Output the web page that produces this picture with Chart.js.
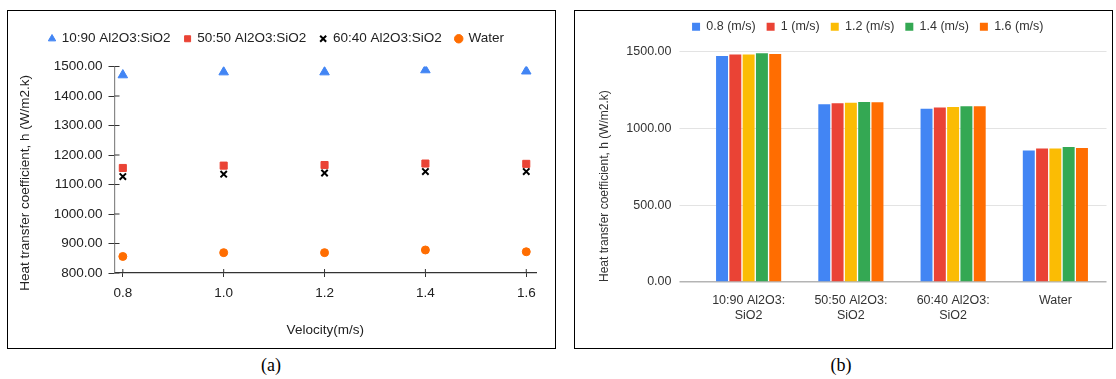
<!DOCTYPE html>
<html>
<head>
<meta charset="utf-8">
<script src="https://cdn.jsdelivr.net/npm/chart.js@4"></script>
<style>
  body { margin: 0; width: 1116px; height: 379px; background: #fff; position: relative; overflow: hidden; }
  .panel { position: absolute; border: 1.5px solid #000; box-sizing: border-box; }
  #pa { left: 7px; top: 10px; width: 549px; height: 339px; }
  #pb { left: 574px; top: 10px; width: 539px; height: 339px; }
  .panel div { position: absolute; left: 0; top: 0; right: 0; bottom: 0; }
  .cap { position: absolute; top: 355px; font-family: "Liberation Serif", "Times New Roman", serif; font-size: 18px; transform: translateX(-50%); color: #000; }
</style>
</head>
<body>
<div class="panel" id="pa"><div><canvas id="scatterChart"></canvas></div></div>
<div class="panel" id="pb"><div><canvas id="barChart"></canvas></div></div>
<div class="cap" style="left:271px">(a)</div>
<div class="cap" style="left:841px">(b)</div>
<script>
// velocities (m/s)
const velocities = [0.8, 1.0, 1.2, 1.4, 1.6];
const velocityLabels = ['0.8 (m/s)', '1 (m/s)', '1.2 (m/s)', '1.4 (m/s)', '1.6 (m/s)'];
const fluidNames = ['10:90 Al2O3:SiO2', '50:50 Al2O3:SiO2', '60:40 Al2O3:SiO2', 'Water'];
const fluidLabels = [['10:90 Al2O3:', 'SiO2'], ['50:50 Al2O3:', 'SiO2'], ['60:40 Al2O3:', 'SiO2'], 'Water'];

// heat transfer coefficient h (W/m2.k) per velocity
const h1090 = [1471, 1481, 1481, 1488, 1484];
const h5050 = [1156, 1164, 1166, 1171, 1170];
const h6040 = [1127, 1135, 1139, 1144, 1144];
const hWater = [856, 869, 869, 878, 872];

const yTitle = 'Heat transfer coefficient, h (W/m2.k)';
Chart.defaults.font.family = '"Liberation Sans", Arial, sans-serif';
Chart.defaults.color = '#222';
Chart.defaults.animation = false;

// nudge the legend around and leave extra room under it
const legendTweak = (extra, dx, dy) => ({
  id: 'legendTweak',
  beforeInit(chart) {
    const fit = chart.legend.fit;
    chart.legend.fit = function () { fit.call(this); this.height += extra; };
  },
  afterLayout(chart) {
    const lg = chart.legend;
    lg.left += dx; lg.right += dx; lg.top += dy; lg.bottom += dy;
  },
});

// short tick marks on the inner side of the axes too (they cross the axis line)
const crossTicks = {
  id: 'crossTicks',
  afterDatasetsDraw(chart) {
    const { ctx, scales: { x, y }, chartArea: a } = chart;
    ctx.save();
    ctx.strokeStyle = '#333';
    ctx.lineWidth = 1;
    ctx.beginPath();
    y.ticks.forEach(t => { const py = y.getPixelForValue(t.value); ctx.moveTo(a.left, py); ctx.lineTo(a.left + 5, py); });
    x.ticks.forEach(t => { const px = x.getPixelForValue(t.value); ctx.moveTo(px, a.bottom); ctx.lineTo(px, a.bottom - 4); });
    ctx.stroke();
    ctx.restore();
  },
};

const toPts = arr => arr.map((v, i) => ({ x: velocities[i], y: v }));

new Chart(document.getElementById('scatterChart'), {
  type: 'scatter',
  data: {
    datasets: [
      { label: fluidNames[0], data: toPts(h1090), pointStyle: 'triangle', pointRadius: 5.5, backgroundColor: '#4285F4', borderColor: '#4285F4', borderWidth: 1 },
      { label: fluidNames[1], data: toPts(h5050), pointStyle: 'rect', pointRadius: 5, backgroundColor: '#EA4335', borderColor: '#EA4335', borderWidth: 1 },
      { label: fluidNames[2], data: toPts(h6040), pointStyle: 'crossRot', pointRadius: 4.5, backgroundColor: '#000', borderColor: '#000', borderWidth: 2 },
      { label: fluidNames[3], data: toPts(hWater), pointStyle: 'circle', pointRadius: 4, backgroundColor: '#FF6D01', borderColor: '#FF6D01', borderWidth: 1 },
    ],
  },
  plugins: [legendTweak(6, 2, -5), crossTicks],
  options: {
    responsive: true,
    maintainAspectRatio: false,
    layout: { padding: { left: 5, right: 19, top: 12, bottom: 0 } },
    plugins: {
      legend: {
        labels: { usePointStyle: true, boxWidth: 6, boxHeight: 6, padding: 14, font: { size: 13.5 }, color: '#222' },
      },
      tooltip: { enabled: false },
    },
    scales: {
      x: {
        type: 'linear',
        min: 0.7835,
        max: 1.6193,
        afterBuildTicks: s => { s.ticks = velocities.map(v => ({ value: v })); },
        afterFit: s => { s.height = 75; },
        ticks: { callback: v => v.toFixed(1), font: { size: 13.5 }, color: '#222', padding: 8 },
        grid: { drawOnChartArea: false, drawTicks: true, tickLength: 4, color: '#333' },
        border: { color: '#333', width: 1.2 },
        title: { display: true, text: 'Velocity(m/s)', font: { size: 13.5 }, color: '#222', padding: { top: 4, bottom: 10 } },
      },
      y: {
        min: 800,
        max: 1500,
        afterFit: s => { s.width = 101.5; },
        ticks: { stepSize: 100, callback: v => v.toFixed(2), font: { size: 13.5 }, color: '#222', padding: 6 },
        grid: { drawOnChartArea: false, drawTicks: true, tickLength: 6, color: '#333' },
        border: { color: '#888', width: 1.2 },
        // trailing spaces push the visible text a little lower, like the original
        title: { display: true, text: yTitle + '\u00a0'.repeat(7), font: { size: 13.5 }, color: '#222' },
      },
    },
  },
});

const barColors = ['#4285F4', '#EA4335', '#FBBC04', '#34A853', '#FF6D01'];
const perFluid = [h1090, h5050, h6040, hWater];

new Chart(document.getElementById('barChart'), {
  type: 'bar',
  data: {
    labels: fluidLabels,
    datasets: velocityLabels.map((lab, i) => ({
      label: lab,
      data: perFluid.map(arr => arr[i]),
      backgroundColor: barColors[i],
      borderWidth: 0,
      barPercentage: 0.9,
      categoryPercentage: 0.65,
    })),
  },
  plugins: [legendTweak(7, 18, -1.5)],
  options: {
    responsive: true,
    maintainAspectRatio: false,
    layout: { padding: { left: 18, right: 5.5, top: 0, bottom: 0 } },
    plugins: {
      legend: {
        labels: { boxWidth: 8, boxHeight: 8, padding: 11, font: { size: 12.5 }, color: '#333' },
      },
      tooltip: { enabled: false },
    },
    scales: {
      x: {
        afterFit: s => { s.height = 66; },
        ticks: { font: { size: 12.5 }, color: '#333', padding: 3, maxRotation: 0 },
        grid: { display: false },
        border: { display: false },
      },
      y: {
        min: 0,
        max: 1500,
        afterFit: s => { s.width = 104.5; },
        ticks: { stepSize: 500, callback: v => v.toFixed(2), font: { size: 12.5 }, color: '#333', padding: 8 },
        grid: { color: c => (c.tick && c.tick.value === 0 ? '#b4b4b4' : '#e3e3e3'), lineWidth: c => (c.tick && c.tick.value === 0 ? 1.5 : 1), tickLength: 18, drawTicks: true },
        border: { display: false },
        title: { display: true, text: yTitle, align: 'start', font: { size: 12 }, color: '#333' },
      },
    },
  },
});
</script>
</body>
</html>
